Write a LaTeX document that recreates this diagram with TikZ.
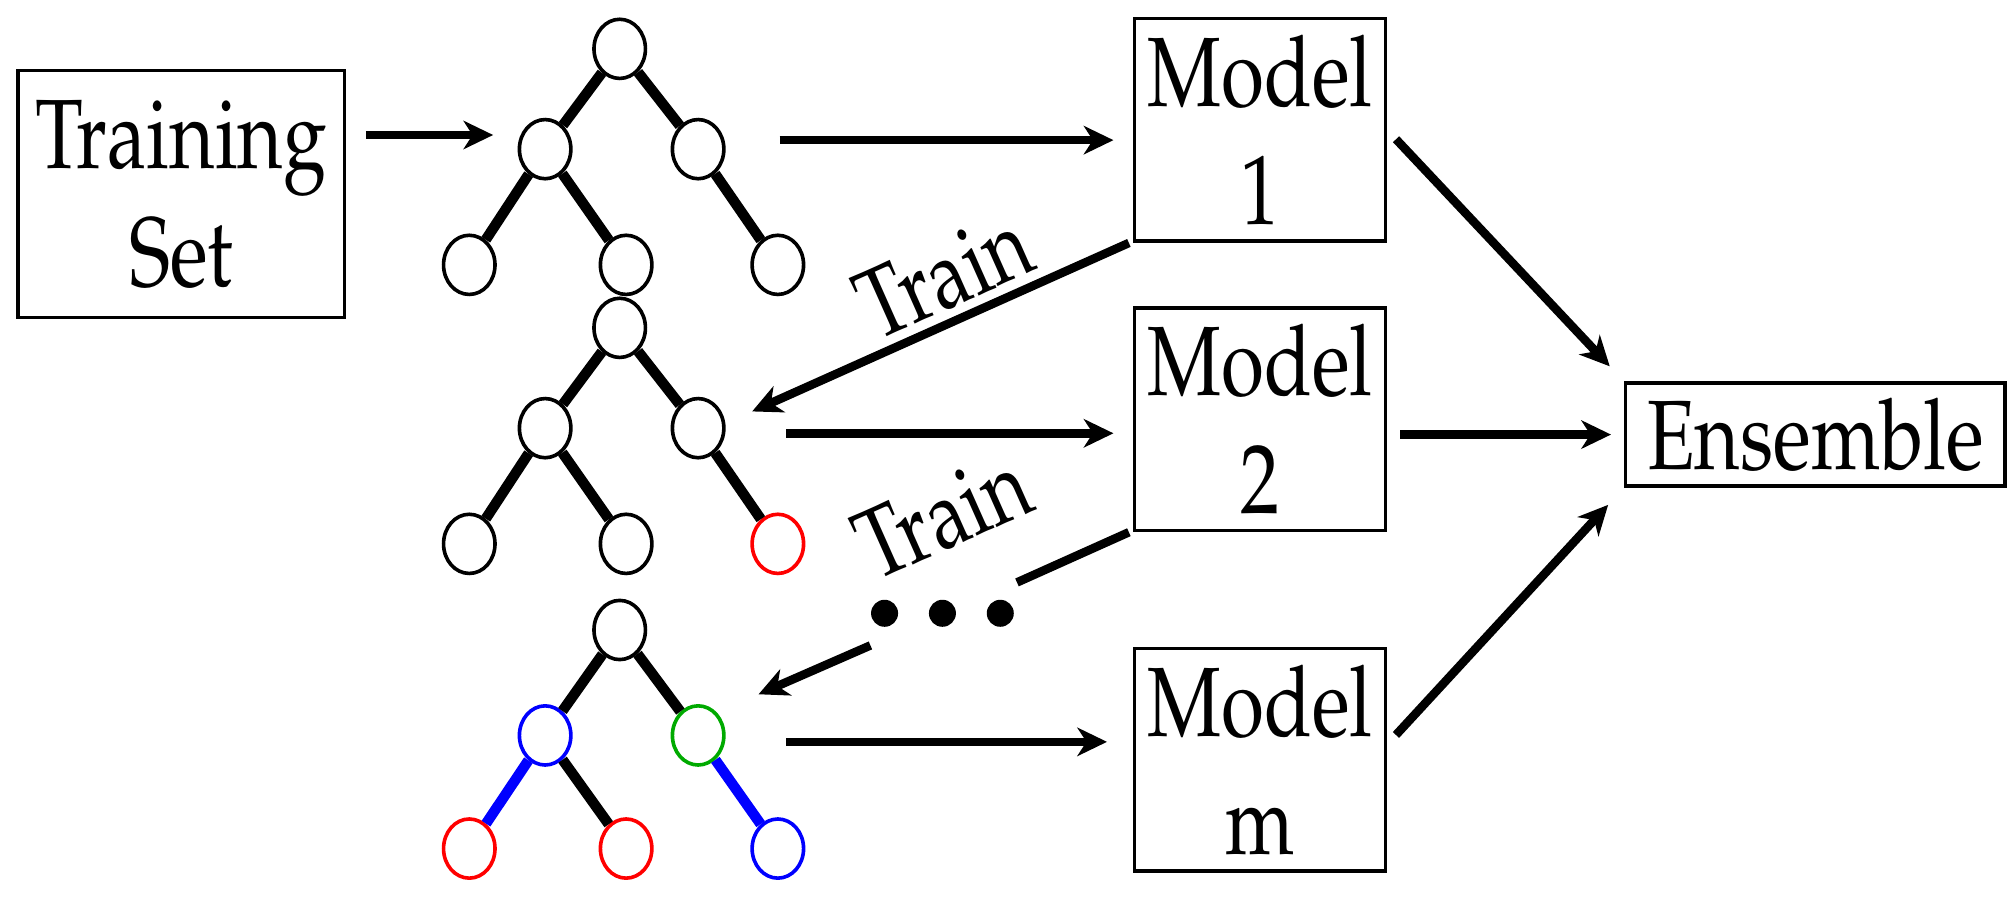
\documentclass[tikz,border=0pt]{standalone}
\usepackage[T1]{fontenc}
\usepackage{mathpazo}
\usepackage{graphicx}
\usetikzlibrary{arrows.meta,positioning,shapes.geometric}
\definecolor{leafred}{RGB}{255,0,0}
\definecolor{splitblue}{RGB}{0,0,255}
\definecolor{splitgreen}{RGB}{0,170,0}
\newcommand{\tallt}[1]{\scalebox{1}[1.26]{#1}}
\tikzset{
  box/.style={draw,line width=0.8pt,align=center,inner sep=0pt,font=\fontsize{17.3}{26}\selectfont},
  knot/.style={draw,shape=ellipse,line width=0.8pt,minimum width=0.40cm,minimum height=0.46cm,inner sep=0pt},
  branch/.style={line width=2.3pt},
  arr/.style={line width=1.9pt,-{Stealth[length=0.23cm,width=0.22cm,inset=0.07cm]}},
  dotmark/.style={circle,fill,inner sep=0pt,minimum size=0.21cm},
  trainlabel/.style={font=\fontsize{17.3}{26}\selectfont,rotate=24}
}
\begin{document}
\begin{tikzpicture}[x=0.01cm,y=-0.01cm]
    \useasboundingbox (0,0) rectangle (1568,700);

    % boxes
    \node [box,minimum width=2.54cm,minimum height=1.92cm] (train) at (141,151) {\tallt{Training}\\\tallt{Set}};
    \node [box,minimum width=1.95cm,minimum height=1.73cm] (m1) at (980,101) {\tallt{Model}\\\tallt{1}};
    \node [box,minimum width=1.95cm,minimum height=1.73cm] (m2) at (980,326) {\tallt{Model}\\\tallt{2}};
    \node [box,minimum width=1.95cm,minimum height=1.73cm] (m3) at (980,591) {\tallt{Model}\\\tallt{m}};
    \node [box,minimum width=2.95cm,minimum height=0.80cm] (ens) at (1412,338) {\tallt{Ensemble}};

    % tree 1
    \node [knot] (root1) at (482,38) {};
    \node [knot] (left1) at (424,116) {};
    \node [knot] (right1) at (543,116) {};
    \node [knot] (ll1) at (365,206) {};
    \node [knot] (lr1) at (487,206) {};
    \node [knot] (rr1) at (605,206) {};
    \draw [branch] (root1) -- (left1);
    \draw [branch] (root1) -- (right1);
    \draw [branch] (left1) -- (ll1);
    \draw [branch] (left1) -- (lr1);
    \draw [branch] (right1) -- (rr1);

    % tree 2
    \node [knot] (root2) at (482,255) {};
    \node [knot] (left2) at (424,333) {};
    \node [knot] (right2) at (543,333) {};
    \node [knot] (ll2) at (365,423) {};
    \node [knot] (lr2) at (487,423) {};
    \node [knot,draw=leafred] (rr2) at (605,423) {};
    \draw [branch] (root2) -- (left2);
    \draw [branch] (root2) -- (right2);
    \draw [branch] (left2) -- (ll2);
    \draw [branch] (left2) -- (lr2);
    \draw [branch] (right2) -- (rr2);

    % tree 3
    \node [knot] (root3) at (482,490) {};
    \node [knot,draw=splitblue] (left3) at (424,572) {};
    \node [knot,draw=splitgreen] (right3) at (543,572) {};
    \node [knot,draw=leafred] (ll3) at (365,660) {};
    \node [knot,draw=leafred] (lr3) at (487,660) {};
    \node [knot,draw=splitblue] (rr3) at (605,660) {};
    \draw [branch] (root3) -- (left3);
    \draw [branch] (root3) -- (right3);
    \draw [branch,splitblue] (left3) -- (ll3);
    \draw [branch] (left3) -- (lr3);
    \draw [branch,splitblue] (right3) -- (rr3);

    % forward arrows
    \draw [arr,shorten <=0.15cm,shorten >=0.19cm] (train.east |- 0,105) -- (left1.west |- 0,105);
    \draw [arr,shorten <=0.42cm,shorten >=0.15cm] (right1.east |- 0,109) -- (m1.west |- 0,109);
    \draw [arr,shorten <=0.47cm,shorten >=0.15cm] (right2.east |- 0,337) -- (m2.west |- 0,337);
    \draw [arr,shorten <=0.47cm,shorten >=0.2cm] (right3.east |- 0,577) -- (m3.west |- 0,577);
    \draw [arr,shorten <=0.1cm,shorten >=0.16cm] (m1.east) -- (ens.north west);
    \draw [arr,shorten <=0.1cm,shorten >=0.1cm] (m2.east |- ens.west) -- (ens.west);
    \draw [arr,shorten <=0.1cm,shorten >=0.18cm] ([yshift=0.12cm]m3.east) -- (ens.south west);

    % train arrows
    \coordinate (tr1) at (585,320);
    \draw [arr] ([xshift=-0.03cm]m1.south west) -- (tr1);
    \node [trainlabel] (lab1) at (734,213) {\tallt{Train}};

    \coordinate (tr2a) at (791,453);
    \coordinate (tr2b) at (677,502);
    \coordinate (tr2c) at (590,540);
    \draw [line width=1.9pt] ([xshift=-0.03cm]m2.south west) -- (tr2a);
    \draw [arr] (tr2b) -- (tr2c);
    \node [trainlabel] (lab2) at (733,400) {\tallt{Train}};
    \node [dotmark] (dot1) at (688,477) {};
    \node [dotmark] (dot2) at (733,477) {};
    \node [dotmark] (dot3) at (778,477) {};
\end{tikzpicture}
\end{document}
